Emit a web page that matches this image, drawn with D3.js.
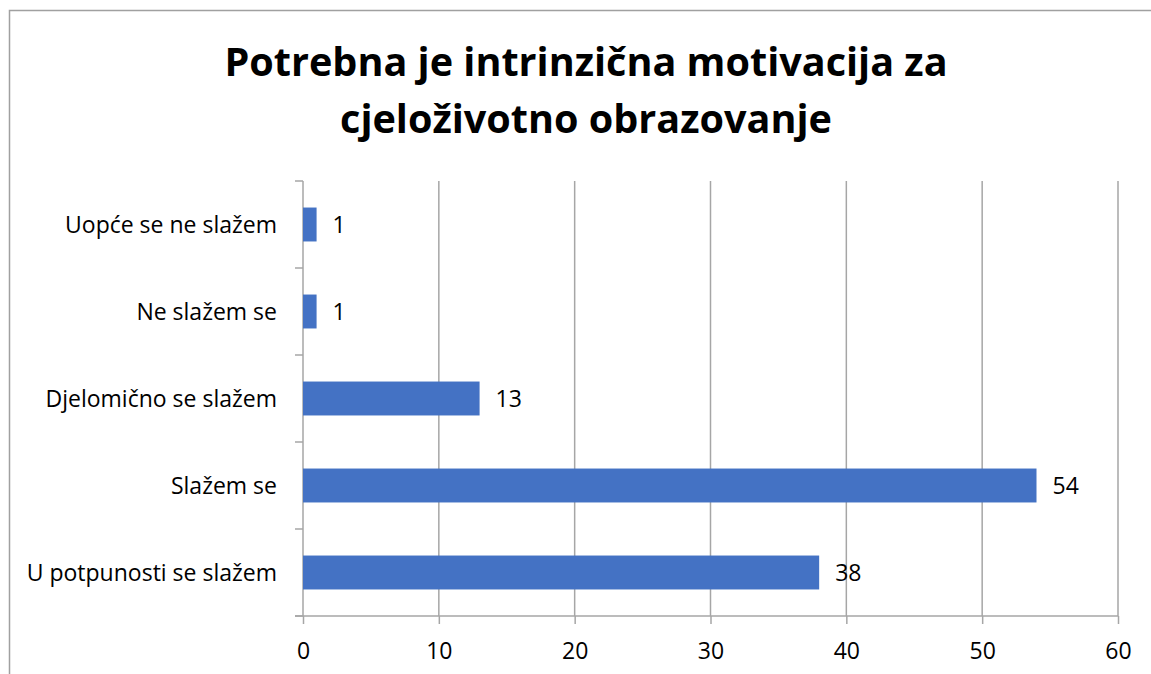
<!DOCTYPE html>
<html>
<head>
<meta charset="utf-8">
<script src="https://cdn.jsdelivr.net/npm/d3@7"></script>
<style>
  body { margin: 0; background: #fff; }
  svg { display: block; }
  text { font-family: "Open Sans", Lato, sans-serif; }
</style>
</head>
<body>
<svg id="chart" width="1151" height="674"></svg>
<script>
const titleLines = ["Potrebna je intrinzična motivacija za", "cjeloživotno obrazovanje"];
const categories = ["Uopće se ne slažem", "Ne slažem se", "Djelomično se slažem", "Slažem se", "U potpunosti se slažem"];
const values = [1, 1, 13, 54, 38];
const xTicks = [0, 10, 20, 30, 40, 50, 60];

const width = 1151, height = 674;
const margin = { top: 181, right: 33, bottom: 58, left: 303 };
const innerW = width - margin.left - margin.right;
const innerH = height - margin.top - margin.bottom;
const gridColor = "#a6a6a6";

const svg = d3.select("#chart");

// chart frame (bottom edge is cut off in the reference)
svg.append("path")
  .attr("d", `M9.5,${height} V10.5 H${width}`)
  .attr("fill", "none")
  .attr("stroke", "#a0a0a0")
  .attr("stroke-width", 1.5);

svg.append("text")
  .attr("x", 586)
  .attr("y", 76)
  .attr("text-anchor", "middle")
  .style("font-size", "39.6px")
  .style("font-weight", "bold")
  .selectAll("tspan")
  .data(titleLines)
  .enter()
  .append("tspan")
  .attr("x", 586)
  .attr("dy", (d, i) => i === 0 ? 0 : 57)
  .text(d => d);

const g = svg.append("g").attr("transform", `translate(${margin.left},${margin.top})`);

const x = d3.scaleLinear().domain([0, 60]).range([0, innerW]);
const y = d3.scaleBand().domain(categories).range([0, innerH]).paddingInner(0.61).paddingOuter(0.305);

// vertical gridlines
g.selectAll(".grid")
  .data(xTicks.slice(1))
  .enter()
  .append("line")
  .attr("class", "grid")
  .attr("x1", d => x(d)).attr("x2", d => x(d))
  .attr("y1", 0).attr("y2", innerH)
  .attr("stroke", gridColor)
  .attr("stroke-width", 1.5);

// x axis
const xAxis = d3.axisBottom(x).tickValues(xTicks).tickSize(8).tickPadding(19).tickFormat(d3.format("d"));
const xg = g.append("g").attr("transform", `translate(0,${innerH})`).call(xAxis);
xg.select(".domain").remove();
xg.append("line").attr("x1", -8).attr("x2", innerW).attr("stroke", gridColor).attr("stroke-width", 1.5);
xg.selectAll(".tick line").attr("stroke", gridColor).attr("stroke-width", 1.5);
xg.selectAll(".tick text").attr("fill", "#000").style("font-size", "23px");

// y axis: ticks at band boundaries
g.append("line").attr("x1", 0).attr("x2", 0).attr("y1", 0).attr("y2", innerH)
  .attr("stroke", gridColor).attr("stroke-width", 1.5);
const step = y.step();
g.selectAll(".ytick")
  .data(d3.range(categories.length + 1))
  .enter()
  .append("line")
  .attr("x1", -8).attr("x2", 0)
  .attr("y1", i => i * step).attr("y2", i => i * step)
  .attr("stroke", gridColor).attr("stroke-width", 1.5);

g.selectAll(".ylabel")
  .data(categories)
  .enter()
  .append("text")
  .attr("x", -26)
  .attr("y", d => y(d) + y.bandwidth() / 2)
  .attr("dy", "0.35em")
  .attr("text-anchor", "end")
  .style("font-size", "23px")
  .text(d => d);

// bars
g.selectAll(".bar")
  .data(values)
  .enter()
  .append("rect")
  .attr("x", 0)
  .attr("y", (d, i) => y(categories[i]))
  .attr("width", d => x(d))
  .attr("height", y.bandwidth())
  .attr("fill", "#4472c4");

// value labels
g.selectAll(".val")
  .data(values)
  .enter()
  .append("text")
  .attr("x", d => x(d) + 16)
  .attr("y", (d, i) => y(categories[i]) + y.bandwidth() / 2)
  .attr("dy", "0.35em")
  .style("font-size", "23px")
  .text(d => d);
</script>
</body>
</html>
